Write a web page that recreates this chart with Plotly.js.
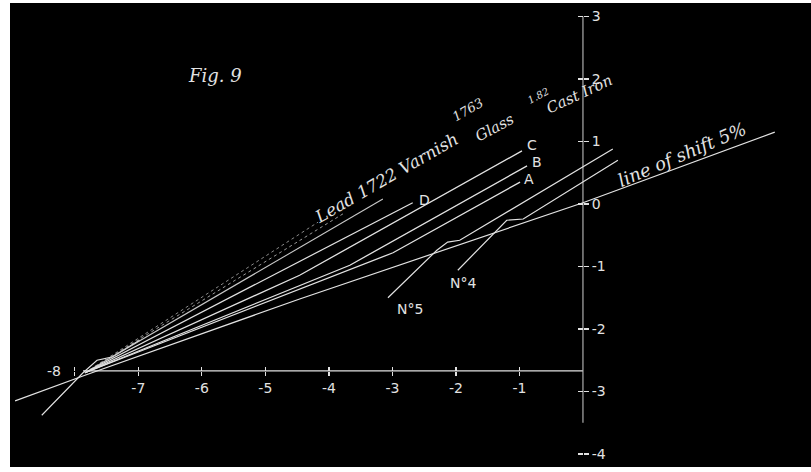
<!DOCTYPE html>
<html>
<head>
<meta charset="utf-8">
<script src="https://cdn.plot.ly/plotly-3.0.1.min.js"></script>
<style>html,body{margin:0;padding:0;background:#fff;}#chart{width:811px;height:472px;}</style>
</head>
<body>
<div id="chart"></div>
<script>
// ---- Axis ticks ----
var xTickVals = [-8, -7, -6, -5, -4, -3, -2, -1];
var xTickText = ['', '-7', '-6', '-5', '-4', '-3', '-2', '-1'];
var yTickVals = [3, 2, 1, 0, -1, -2, -3, -4];
var yTickText = ['3', '2', '1', '0', '-1', '-2', '-3', '-4'];
var xAxisLevel = -2.67;   // height at which the horizontal axis is drawn
var xAxisSpanX = [-7.87, 0];
var yAxisSpanY = [3.0, -3.5];

// ---- Curves (x, y) ----
var shiftX = [-8.94, -7.84, -4.46, 0.0, 3.02];
var shiftY = [-3.15, -2.74, -1.52, 0.02, 1.15];

var leftBranchX = [-8.52, -7.87, -7.65, -7.42, -6.98];
var leftBranchY = [-3.38, -2.70, -2.50, -2.45, -2.18];

var leadX = [-7.84, -4.17];   var leadY = [-2.70, -0.29];
var l1722X = [-7.84, -3.75];  var l1722Y = [-2.70, -0.14];
var varnishX = [-7.84, -3.15]; var varnishY = [-2.70, 0.08];
var lineDX = [-7.84, -2.68];  var lineDY = [-2.70, 0.02];
var lineCX = [-7.84, -4.46, -0.96]; var lineCY = [-2.70, -1.14, 0.85];
var lineBX = [-7.84, -3.67, -0.88]; var lineBY = [-2.70, -0.98, 0.61];
var lineAX = [-7.84, -2.99, -0.99]; var lineAY = [-2.70, -0.78, 0.35];

var no4X = [-1.97, -1.35, -1.20, -0.94, 0.55];
var no4Y = [-1.06, -0.42, -0.26, -0.24, 0.70];
var no5X = [-3.07, -2.30, -2.13, -1.94, 0.47];
var no5Y = [-1.50, -0.74, -0.61, -0.58, 0.88];

var xRange = [-9.02, 3.59];
var yRange = [-4.208, 3.216];

var ink = '#e2e2e2';
function ln(x, y, w, dash, col) {
  return {x: x, y: y, type: 'scatter', mode: 'lines', hoverinfo: 'skip',
    line: {color: col || ink, width: w || 1.2, dash: dash || 'solid'}};
}

var traces = [
  ln(xAxisSpanX, [xAxisLevel, xAxisLevel], 1.3),
  ln([0, 0], yAxisSpanY, 1.1, 'solid', '#bdbdbd'),
  ln(shiftX, shiftY, 1.2),
  ln(leftBranchX, leftBranchY, 1.1),
  ln(leadX, leadY, 1, 'dot', '#8a8a8a'),
  ln(l1722X, l1722Y, 1, 'dot', '#9a9a9a'),
  ln(varnishX, varnishY, 1.1, 'solid', '#c8c8c8'),
  ln(lineDX, lineDY, 1.2),
  ln(lineCX, lineCY, 1.3),
  ln(lineBX, lineBY, 1.3),
  ln(lineAX, lineAY, 1.3),
  ln(no4X, no4Y, 1.2),
  ln(no5X, no5Y, 1.2)
];

var sans = 'DejaVu Sans, sans-serif';
var serif = 'DejaVu Serif, Liberation Serif, serif';
function lab(t, x, y, size, fam, ang) {
  return {text: t, x: x, y: y, xref: 'x', yref: 'y', showarrow: false,
    textangle: ang || 0, font: {family: fam || sans, size: size || 14, color: ink}};
}

var annotations = [
  lab('A', -0.85, 0.40, 14),
  lab('B', -0.72, 0.67, 14),
  lab('C', -0.80, 0.95, 14),
  lab('D', -2.50, 0.07, 14),
  lab('N°4', -1.89, -1.27, 14),
  lab('N°5', -2.72, -1.68, 14),
  lab('-8', -8.33, xAxisLevel, 14),
  lab('<i>Fig. 9</i>', -5.80, 2.05, 18, serif),
  lab('<i>line of shift 5%</i>', 1.55, 0.80, 18, serif, -23),
  lab('<i>Lead 1722 Varnish</i>', -3.10, 0.42, 17, serif, -30),
  lab('<i>1763</i>', -1.81, 1.52, 13, serif, -30),
  lab('<i>Glass</i>', -1.40, 1.22, 15, serif, -28),
  lab('<i>1.82</i>', -0.70, 1.74, 10, serif, -28),
  lab('<i>Cast Iron</i>', -0.05, 1.76, 15, serif, -25)
];

var posX = (xAxisLevel - yRange[0]) / (yRange[1] - yRange[0]);
var posY = (0 - xRange[0]) / (xRange[1] - xRange[0]);

var layout = {
  width: 811, height: 472,
  margin: {l: 10, r: 0, t: 3, b: 5, pad: 0},
  paper_bgcolor: '#ffffff',
  plot_bgcolor: '#000000',
  showlegend: false,
  xaxis: {
    range: xRange, showgrid: false, zeroline: false, showline: false,
    tickvals: xTickVals, ticktext: xTickText,
    ticks: 'outside', ticklen: 4, tickwidth: 1.3, tickcolor: ink,
    tickfont: {family: sans, size: 14, color: ink},
    anchor: 'free', position: posX, fixedrange: true
  },
  xaxis2: {
    range: xRange, overlaying: 'x', showgrid: false, zeroline: false, showline: false,
    tickvals: xTickVals, showticklabels: false,
    ticks: 'inside', ticklen: 4, tickwidth: 1.3, tickcolor: ink,
    anchor: 'free', position: posX, fixedrange: true
  },
  yaxis: {
    range: yRange, showgrid: false, zeroline: false, showline: false,
    tickvals: yTickVals, ticktext: yTickText,
    ticks: 'outside', ticklen: 5, tickwidth: 1.3, tickcolor: ink,
    tickfont: {family: sans, size: 14, color: ink},
    side: 'right', anchor: 'free', position: posY, fixedrange: true
  },
  yaxis2: {
    range: yRange, overlaying: 'y', showgrid: false, zeroline: false, showline: false,
    tickvals: yTickVals, showticklabels: false,
    ticks: 'inside', ticklen: 5, tickwidth: 1.3, tickcolor: ink,
    side: 'right', anchor: 'free', position: posY, fixedrange: true
  },
  annotations: annotations
};

// invisible trace to activate the secondary (tick-only) axes
traces.push({x: [xRange[0]], y: [yRange[0]], xaxis: 'x2', yaxis: 'y2', type: 'scatter',
  mode: 'markers', marker: {size: 1, color: 'rgba(0,0,0,0)'}, hoverinfo: 'skip'});

Plotly.newPlot('chart', traces, layout, {displayModeBar: false, staticPlot: true});
</script>
</body>
</html>
